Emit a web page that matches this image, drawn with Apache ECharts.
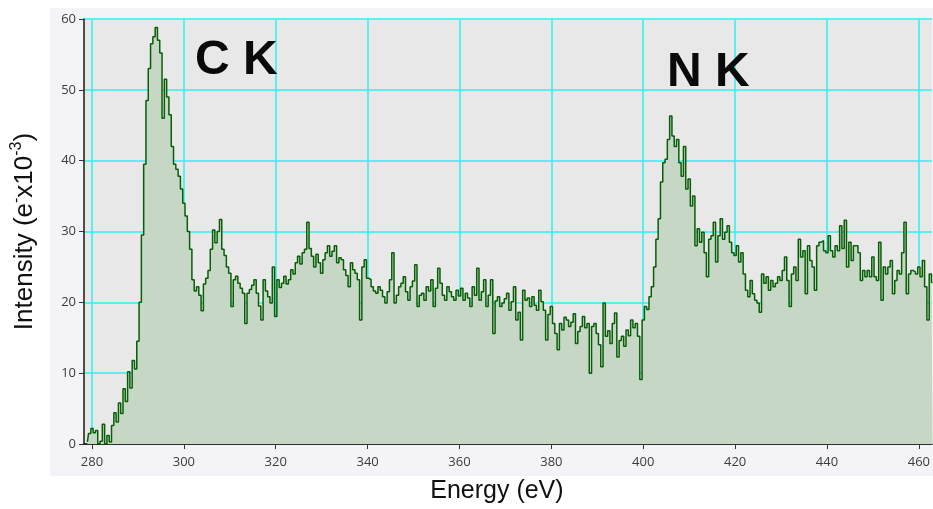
<!DOCTYPE html>
<html>
<head>
<meta charset="utf-8">
<script src="https://cdn.jsdelivr.net/npm/echarts@6/dist/echarts.min.js"></script>
<style>
  html, body { margin: 0; padding: 0; background: #ffffff; }
  #main { width: 933px; height: 509px; }
</style>
</head>
<body>
<div id="main"></div>
<script>
// spectrum channels: first energy and channel width (eV)
var eStart = 279.0;
var eStep = 0.5;

// intensities (e- x10^-3), 20 channels per 10 eV
var seg279 = [0.3, 1.5, 2.2, 1.6, 1.9, 0.0, 0.4, 2.8, 0.0, 1.2, 0.3, 2.6, 4.4, 3.1, 5.8, 4.3, 7.8, 6.0, 10.2, 7.9];
var seg289 = [11.8, 10.6, 14.5, 20.0, 29.5, 39.5, 48.5, 53.0, 56.5, 57.5, 58.8, 57.0, 55.2, 46.0, 51.5, 49.0, 46.5, 42.0, 39.5, 38.8];
var seg299 = [37.8, 36.0, 34.0, 32.2, 30.0, 27.5, 23.2, 21.6, 22.2, 21.0, 18.8, 22.6, 23.4, 24.5, 27.5, 30.2, 28.4, 30.0, 31.7, 27.5];
var seg309 = [26.6, 25.0, 24.1, 19.4, 23.2, 23.7, 22.7, 22.0, 21.3, 17.0, 21.3, 21.8, 22.4, 23.2, 21.3, 19.5, 17.5, 23.2, 21.6, 20.8];
var seg319 = [19.9, 25.0, 18.0, 23.2, 22.1, 22.7, 23.7, 22.6, 23.2, 24.6, 24.0, 25.6, 26.5, 25.4, 27.0, 27.5, 31.3, 27.6, 26.5, 25.0];
var seg329 = [26.8, 25.6, 24.1, 26.0, 27.0, 28.0, 26.5, 27.2, 28.0, 25.6, 26.3, 26.0, 24.6, 23.8, 22.2, 25.6, 24.6, 24.1, 23.2, 17.5];
var seg339 = [25.0, 26.0, 23.4, 23.2, 22.2, 21.6, 21.3, 22.2, 21.7, 20.8, 19.9, 21.5, 23.2, 27.0, 19.9, 21.0, 22.2, 22.7, 23.6, 21.5];
var seg349 = [20.3, 22.2, 23.0, 25.3, 19.4, 21.0, 21.3, 20.3, 22.2, 21.6, 23.2, 19.4, 22.0, 24.8, 22.7, 21.0, 20.3, 22.2, 21.5, 20.8];
var seg359 = [20.3, 21.7, 20.9, 22.0, 20.3, 21.3, 20.6, 19.4, 22.2, 21.0, 24.8, 20.3, 21.5, 23.2, 19.4, 21.0, 23.2, 15.6, 20.2, 20.8];
var seg369 = [19.4, 19.9, 20.5, 21.3, 18.9, 20.1, 22.2, 17.5, 18.6, 14.7, 21.7, 20.3, 20.6, 19.4, 20.8, 19.6, 18.9, 21.7, 20.1, 18.9];
var seg379 = [14.7, 18.3, 19.4, 17.0, 15.6, 13.3, 17.0, 16.1, 17.9, 17.5, 16.6, 17.2, 18.4, 14.2, 15.9, 16.6, 18.0, 16.4, 17.0, 10.0];
var seg389 = [16.6, 17.0, 15.6, 14.0, 10.9, 19.9, 15.2, 16.0, 14.2, 17.0, 18.5, 12.3, 14.6, 15.2, 13.8, 16.1, 15.3, 17.5, 16.4, 17.0];
var seg399 = [15.2, 9.1, 17.5, 19.4, 19.0, 20.8, 22.2, 25.0, 28.9, 31.8, 37.0, 39.7, 40.2, 43.0, 46.3, 43.5, 42.0, 43.0, 39.7, 37.8];
var seg409 = [42.0, 36.0, 37.4, 33.6, 35.0, 28.0, 30.4, 28.5, 29.9, 27.0, 23.6, 28.9, 29.4, 31.3, 25.7, 29.4, 31.8, 28.9, 29.9, 30.8];
var seg419 = [28.5, 27.0, 26.6, 28.0, 25.7, 27.0, 24.0, 21.7, 20.8, 23.1, 21.2, 20.3, 19.9, 18.6, 24.0, 22.7, 23.6, 21.7, 23.1, 22.2];
var seg429 = [22.7, 23.6, 23.1, 24.5, 26.4, 23.1, 19.4, 24.0, 25.0, 23.1, 28.9, 26.4, 27.3, 21.2, 28.0, 25.9, 25.0, 21.7, 28.0, 28.5];
var seg439 = [28.7, 27.3, 27.0, 29.4, 27.3, 26.4, 28.0, 27.3, 30.8, 27.6, 31.6, 25.0, 28.5, 25.9, 28.0, 28.0, 27.0, 23.1, 24.5, 23.6];
var seg449 = [24.5, 23.6, 26.4, 23.6, 23.1, 28.5, 20.3, 25.0, 24.0, 25.0, 25.9, 21.2, 23.1, 24.5, 24.0, 27.0, 31.3, 21.2, 24.0, 24.5];
var seg459 = [24.3, 24.0, 25.0, 23.6, 25.9, 22.2, 17.5, 24.0, 22.8];

// axis ticks
var xTicks = [280, 300, 320, 340, 360, 380, 400, 420, 440, 460];
var yTicks = [0, 10, 20, 30, 40, 50, 60];

// edge labels
var edgeLabels = ['C K', 'N K'];

var intensity = [].concat(seg279, seg289, seg299, seg309, seg319, seg329, seg339, seg349,
    seg359, seg369, seg379, seg389, seg399, seg409, seg419, seg429, seg439, seg449, seg459);

var points = [];
for (var i = 0; i < intensity.length; i++) {
    points.push([eStart + i * eStep, intensity[i]]);
}

var myChart = echarts.init(document.getElementById('main'));

var option = {
    backgroundColor: '#ffffff',
    animation: false,
    graphic: [
        {
            type: 'rect',
            z: -10,
            silent: true,
            shape: { x: 50, y: 8, width: 900, height: 468 },
            style: { fill: '#f3f3f8' }
        },
        {
            type: 'text',
            z: 10,
            left: 195,
            top: 37,
            style: { text: edgeLabels[0], font: 'bold 48px "Liberation Sans", Arial', fill: '#0a0a0a' }
        },
        {
            type: 'text',
            z: 10,
            left: 667,
            top: 49,
            style: { text: edgeLabels[1], font: 'bold 48px "Liberation Sans", Arial', fill: '#0a0a0a' }
        }
    ],
    grid: {
        left: 84,
        right: 0,
        top: 19,
        bottom: 64,
        show: true,
        backgroundColor: '#e8e8e8',
        borderWidth: 0
    },
    xAxis: [
        {
            type: 'value',
            min: 278.26,
            max: 462.83,
            name: 'Energy (eV)',
            nameLocation: 'middle',
            nameGap: 35,
            nameTextStyle: {
                fontFamily: 'Liberation Sans',
                fontSize: 25,
                color: '#111111',
                padding: [0, 22, 0, 0]
            },
            axisLine: { onZero: false, lineStyle: { color: '#1a1a1a', width: 1.5 } },
            axisTick: { show: true, length: 5, customValues: xTicks, lineStyle: { color: '#333333' } },
            axisLabel: {
                margin: 12,
                customValues: xTicks,
                fontFamily: 'Open Sans',
                fontSize: 13,
                color: '#3c3c3c'
            },
            splitLine: { show: true, lineStyle: { color: '#2ff0f0', width: 1.5 } }
        },
        {
            type: 'value',
            position: 'top',
            min: 278.26,
            max: 462.83,
            axisLine: { show: true, lineStyle: { color: '#2a2a2a', width: 1.5 } },
            axisTick: { show: false },
            axisLabel: { show: false },
            splitLine: { show: false }
        }
    ],
    yAxis: {
        type: 'value',
        min: yTicks[0],
        max: yTicks[yTicks.length - 1],
        interval: 10,
        name: 'Intensity (e{sup|-}x10{sup|-3})',
        nameLocation: 'middle',
        nameGap: 43,
        nameRotate: 90,
        nameTextStyle: {
            fontFamily: 'Liberation Sans',
            fontSize: 26,
            lineHeight: 32,
            color: '#111111',
            rich: {
                sup: { fontFamily: 'Liberation Sans', fontSize: 16, lineHeight: 16, verticalAlign: 'top', color: '#111111' }
            }
        },
        axisLine: { show: true, lineStyle: { color: '#1a1a1a', width: 1.5 } },
        axisTick: { show: true, length: 5, lineStyle: { color: '#333333' } },
        axisLabel: {
            margin: 8,
            fontFamily: 'Open Sans',
            fontSize: 13,
            color: '#3c3c3c'
        },
        splitLine: { show: true, lineStyle: { color: '#2ff0f0', width: 1.5 } }
    },
    series: [
        {
            name: 'EELS',
            type: 'line',
            step: 'middle',
            showSymbol: false,
            data: points,
            lineStyle: { color: '#075e07', width: 1.5 },
            areaStyle: { color: '#c6d8c5', opacity: 1 }
        }
    ]
};

myChart.setOption(option);
</script>
</body>
</html>
